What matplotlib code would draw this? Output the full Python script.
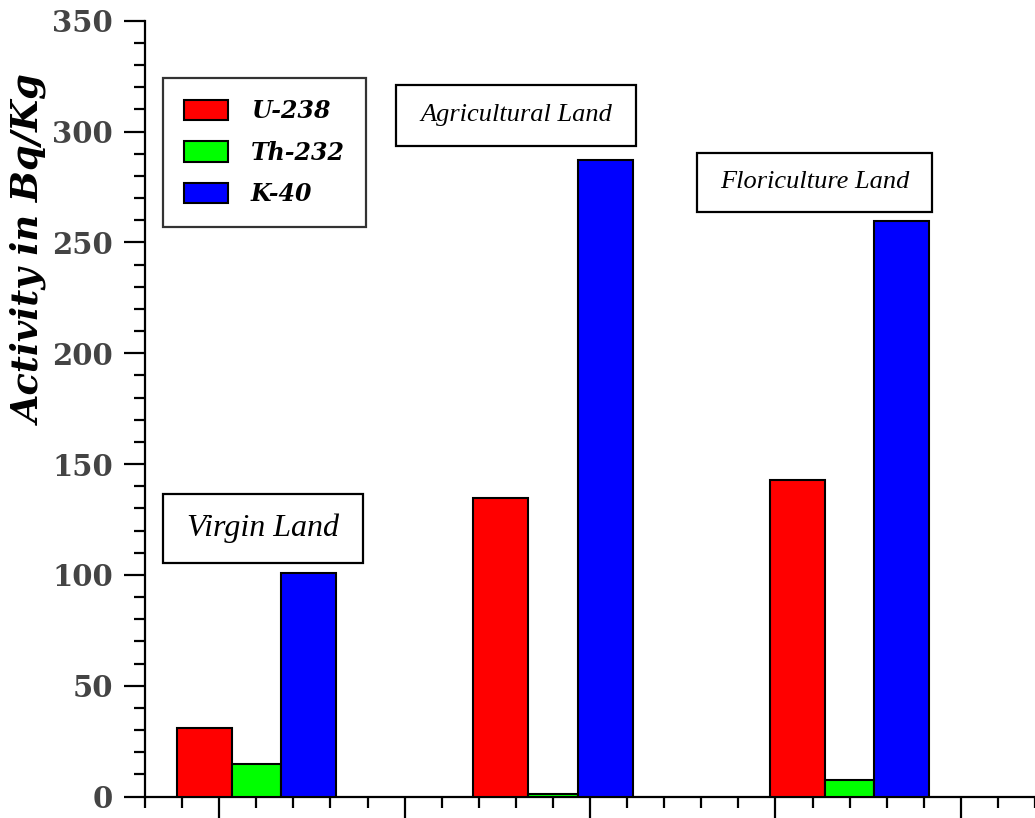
import matplotlib
matplotlib.use("Agg")
import matplotlib.pyplot as plt
from matplotlib.patches import Rectangle
from matplotlib.ticker import MultipleLocator

# Activity concentrations (Bq/Kg) per land type
sites = ["Virgin Land", "Agricultural Land", "Floriculture Land"]
nuclides = ["U-238", "Th-232", "K-40"]
u238 = [30.7, 134.5, 143.0]
th232 = [14.7, 1.0, 7.6]
k40 = [101.0, 287.0, 259.5]
colors = ["#ff0000", "#00ff00", "#0000ff"]

W, H = 1035, 818
fig = plt.figure(figsize=(W / 100, H / 100), dpi=100)
ax = fig.add_axes([145 / W, 1 - 796.5 / H, 1 - 145 / W, (796.5 - 20.7) / H])

centers = [1.2, 2.8, 4.4]
offsets = [-0.2815, 0.0, 0.2815]
widths = [0.297, 0.266, 0.297]
series = [u238, th232, k40]
for vals, off, w, c, name in zip(series, offsets, widths, colors, nuclides):
    ax.bar([x + off for x in centers], vals, width=w, color=c,
           edgecolor="black", linewidth=1.5, label=name, zorder=3)

ax.set_xlim(0.6, 5.4)
ax.set_ylim(0, 350)
ax.xaxis.set_major_locator(MultipleLocator(1))
ax.xaxis.set_minor_locator(MultipleLocator(0.2))
ax.yaxis.set_major_locator(MultipleLocator(50))
ax.yaxis.set_minor_locator(MultipleLocator(10))
ax.set_xticklabels([])
for s in ["top", "right"]:
    ax.spines[s].set_visible(False)
for s in ["left", "bottom"]:
    ax.spines[s].set_linewidth(1.6)
ax.tick_params(axis="both", which="major", length=15, width=1.6, direction="out")
ax.tick_params(axis="both", which="minor", length=8, width=1.6, direction="out")
ax.tick_params(axis="y", which="major", pad=8, labelsize=21, labelcolor="#444444")
for lbl in ax.get_yticklabels():
    lbl.set_fontfamily("DejaVu Serif")
    lbl.set_fontweight("bold")

fig.text(31 / W, 1 - 250 / H, "Activity in Bq/Kg", rotation=90,
         ha="center", va="center", fontsize=26.5, fontweight="bold",
         fontstyle="italic", family="DejaVu Serif")

leg = ax.legend(loc="upper left", bbox_to_anchor=(163 / W, 1 - 78 / H),
                bbox_transform=fig.transFigure, frameon=True, fancybox=False,
                prop={"family": "DejaVu Serif", "weight": "bold",
                      "style": "italic", "size": 17},
                handlelength=1.86, handleheight=0.97, handletextpad=0.95,
                labelspacing=0.74, borderpad=0.9, borderaxespad=0)
leg.get_frame().set_edgecolor("black")
leg.get_frame().set_linewidth(1.6)

# Boxed site labels (pixel extents of each box, text centred inside)
label_boxes = [
    (sites[0], 163, 494, 363, 563, 23),
    (sites[1], 396, 85, 636, 146, 19),
    (sites[2], 697, 153, 932, 212, 19),
]
for text, x0, y0, x1, y1, fs in label_boxes:
    fig.add_artist(Rectangle((x0 / W, 1 - y1 / H), (x1 - x0) / W, (y1 - y0) / H,
                             transform=fig.transFigure, facecolor="white",
                             edgecolor="black", linewidth=1.6, zorder=5))
    fig.text((x0 + x1) / 2 / W, 1 - (y0 + y1) / 2 / H, text, ha="center",
             va="center", fontsize=fs, fontstyle="italic",
             family="Liberation Serif", zorder=6)

fig.savefig("out.png", dpi=100)
